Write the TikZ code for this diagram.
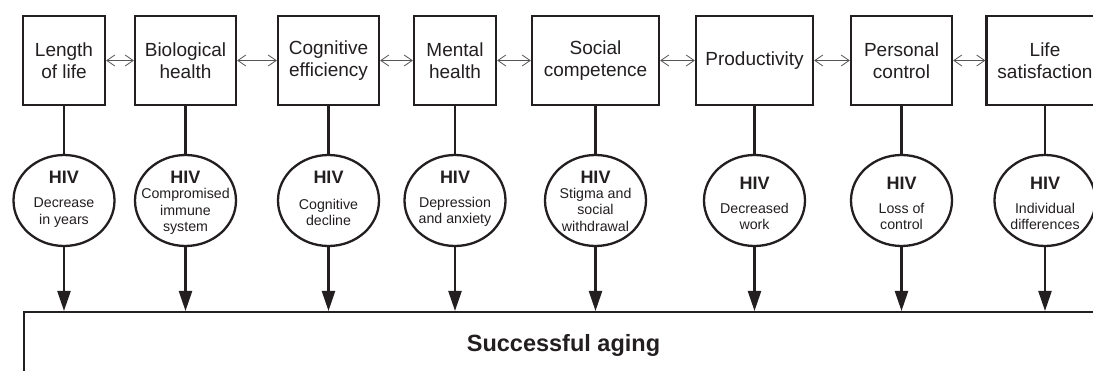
\documentclass[tikz,border=0pt]{standalone}
\usepackage{fontspec}
\setmainfont{Liberation Sans}
\usetikzlibrary{arrows.meta,shapes.geometric}
\definecolor{ink}{HTML}{231F20}
\definecolor{thinline}{HTML}{555555}
\begin{document}
\begin{tikzpicture}[x=1pt,y=-1pt,
  box/.style={draw=ink, line width=2.3pt, minimum height=89pt, align=center, text=ink,
    font=\fontsize{19}{22}\selectfont, inner sep=0pt},
  hivel/.style={ellipse, draw=ink, line width=2.3pt, minimum width=101pt, minimum height=91pt, inner sep=0pt},
  hivt/.style={text=ink, inner sep=0pt, font=\bfseries\fontsize{18}{20}\selectfont},
  subt/.style={text=ink, align=center, inner sep=0pt, font=\fontsize{14.2}{16.5}\selectfont},
  link/.style={draw=thinline, line width=0.8pt, {Straight Barb[length=8pt,width=11pt]}-{Straight Barb[length=8pt,width=11pt]}},
  stem/.style={draw=ink, line width=2.2pt},
  feed/.style={draw=ink, line width=2.2pt, -{Triangle[length=20pt,width=13pt]}},
  base/.style={draw=ink, line width=2.2pt},
  goal/.style={text=ink, font=\bfseries\fontsize{23.5}{26}\selectfont, inner sep=0pt}
]
\useasboundingbox (0,0) rectangle (1093,371);
\clip (0,0) rectangle (1093,371);
\fill[white] (0,0) rectangle (1093,371);

% top boxes
\node[box, minimum width=82pt]  (b1) at (64,60.5)    {Length\\of life};
\node[box, minimum width=101pt] (b2) at (185.5,60.5) {Biological\\health};
\node[box, minimum width=101pt] (b3) at (328.5,60.5) {Cognitive\\efficiency};
\node[box, minimum width=82pt]  (b4) at (455,60.5)   {Mental\\health};
\node[box, minimum width=127pt] (b5) at (595.5,60.5) {Social\\competence};
\node[box, minimum width=117pt] (b6) at (754.5,60.5) {Productivity};
\node[box, minimum width=101pt] (b7) at (901.5,60.5) {Personal\\control};
\node[box, minimum width=117pt] (b8) at (1045,60.5)  {Life\\satisfaction};

% links between boxes
\draw[link] (b1.east) -- (b2.west);
\draw[link] (b2.east) -- (b3.west);
\draw[link] (b3.east) -- (b4.west);
\draw[link] (b4.east) -- (b5.west);
\draw[link] (b5.east) -- (b6.west);
\draw[link] (b6.east) -- (b7.west);
\draw[link] (b7.east) -- (b8.west);

% ellipses
\node[hivel] (e1) at (64,200.5)    {};
\node[hivel] (e2) at (185.5,200.5) {};
\node[hivel] (e3) at (328.5,200.5) {};
\node[hivel] (e4) at (455,200.5)   {};
\node[hivel] (e5) at (595.5,200.5) {};
\node[hivel] (e6) at (754.5,200.5) {};
\node[hivel] (e7) at (901.5,200.5) {};
\node[hivel] (e8) at (1045,200.5)  {};

\node[hivt] (h1) at (64,177)    {HIV};
\node[hivt] (h2) at (185.5,177) {HIV};
\node[hivt] (h3) at (328.5,177) {HIV};
\node[hivt] (h4) at (455,177)   {HIV};
\node[hivt] (h5) at (595.5,177) {HIV};
\node[hivt] (h6) at (754.5,183) {HIV};
\node[hivt] (h7) at (901.5,183) {HIV};
\node[hivt] (h8) at (1045,183)  {HIV};

\node[subt] (s1) at (64,212.5)    {Decrease\\in years};
\node[subt] (s2) at (185.5,211.5) {Compromised\\immune\\system};
\node[subt] (s3) at (328.5,212.5) {Cognitive\\decline};
\node[subt] (s4) at (455,212)     {Depression\\and anxiety};
\node[subt] (s5) at (595.5,209.5) {Stigma and\\social\\withdrawal};
\node[subt] (s6) at (754.5,216.5) {Decreased\\work};
\node[subt] (s7) at (901.5,216.5) {Loss of\\control};
\node[subt] (s8) at (1045,216.5)  {Individual\\differences};

% stems box -> ellipse
\foreach \i in {1,...,8} {\draw[stem] (b\i.south) -- (e\i.north);}

% base shape
\coordinate (bl) at (24,371);
\coordinate (tl) at (24,312);
\coordinate (tr) at (1110,312);
\draw[base] (bl) -- (tl) -- (tr);

\coordinate (t1) at (64,311);
\coordinate (t2) at (185.5,311);
\coordinate (t3) at (328.5,311);
\coordinate (t4) at (455,311);
\coordinate (t5) at (595.5,311);
\coordinate (t6) at (754.5,311);
\coordinate (t7) at (901.5,311);
\coordinate (t8) at (1045,311);
\foreach \i in {1,...,8} {\draw[feed] (e\i.south) -- (t\i);}

\node[goal, anchor=base] (sa) at (563.5,352) {Successful aging};
\end{tikzpicture}
\end{document}
